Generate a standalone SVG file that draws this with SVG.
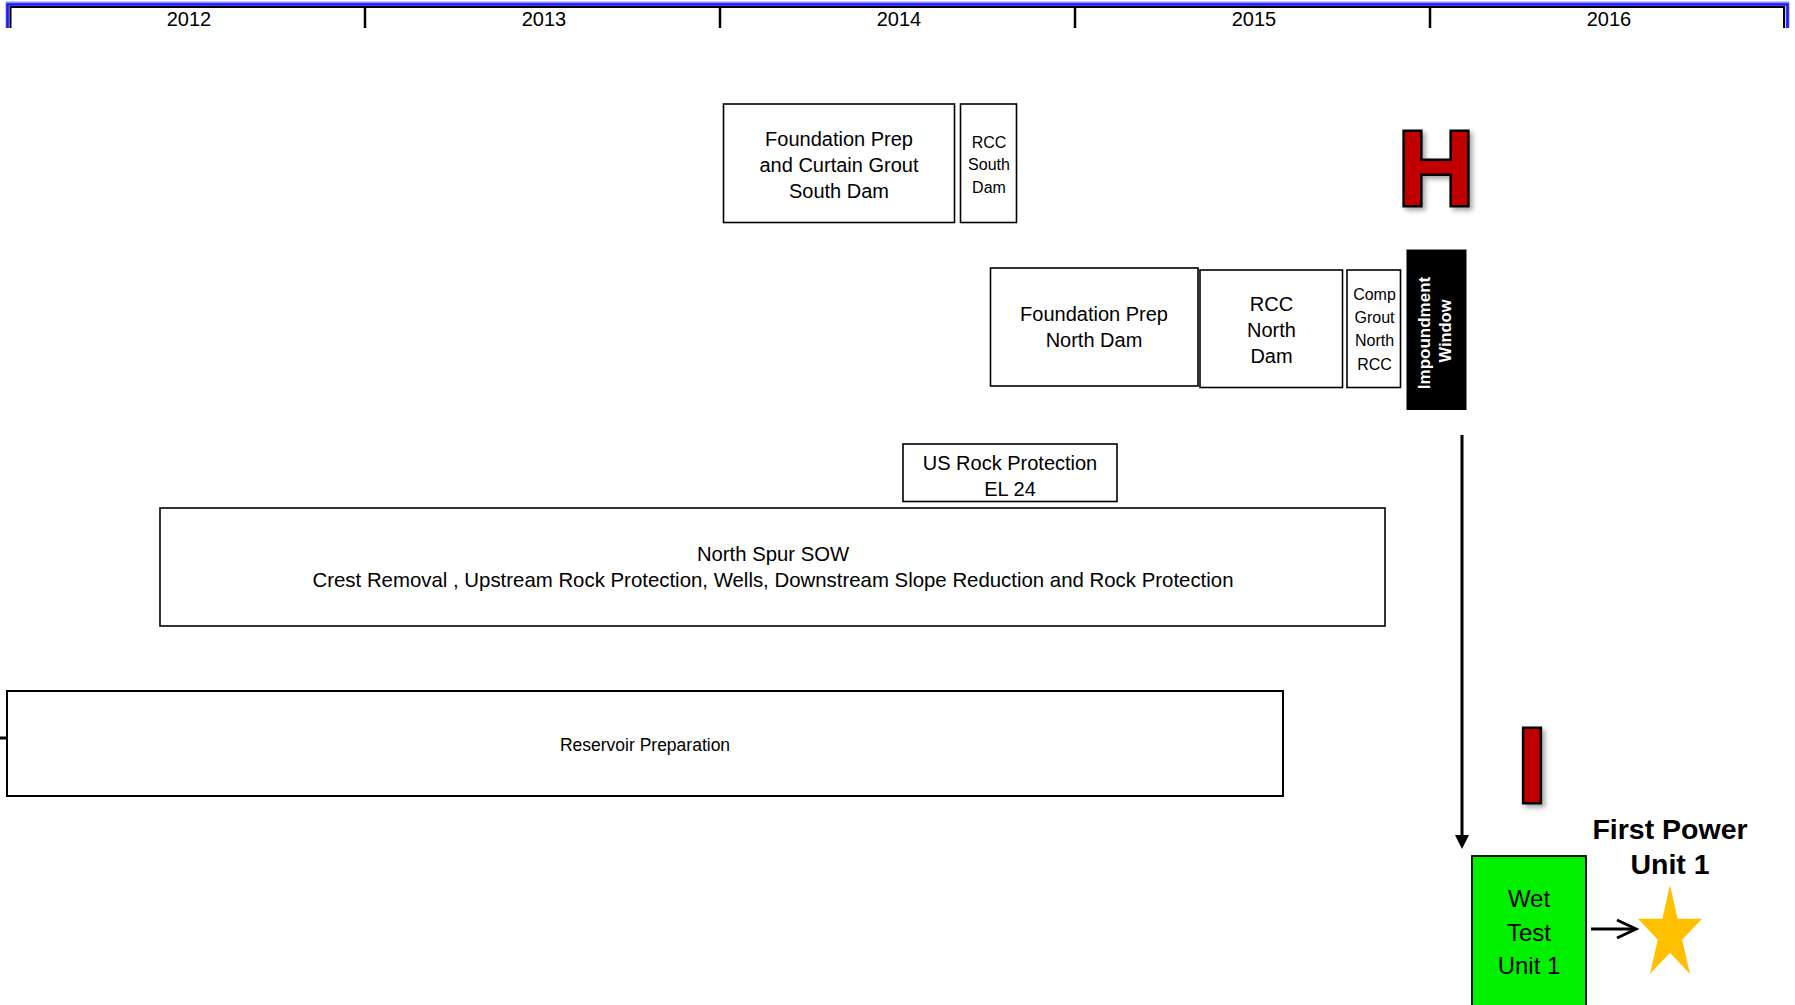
<svg xmlns="http://www.w3.org/2000/svg" width="1795" height="1005" viewBox="0 0 1795 1005">
<style>
.bx{fill:#fff;stroke:#000;stroke-width:1.6}
.t{font-family:"Liberation Sans",Arial,sans-serif;fill:#000;text-anchor:middle}
.f20{font-size:20px}
.f16{font-size:16px}
.yr{font-family:"Liberation Sans",Arial,sans-serif;font-size:20px;text-anchor:middle;fill:#000}
.tick{stroke:#000;stroke-width:2.5}
.big{font-family:"Liberation Sans",Arial,sans-serif;font-weight:bold;font-size:106px;fill:#c00000;stroke:#000;stroke-width:5;paint-order:stroke;text-anchor:middle}
.conn{stroke:#000;stroke-width:3;fill:none}
</style>
<defs>
<filter id="sh" x="-30%" y="-30%" width="160%" height="160%">
<feDropShadow dx="3" dy="3" stdDeviation="2.5" flood-color="#000" flood-opacity="0.35"/>
</filter>
</defs>
<rect width="1795" height="1005" fill="#fff"/>

<g id="timeline">
<path d="M7.5,28 V3.5 H1787.5 V28" fill="none" stroke="#8f8fff" stroke-width="4"/>
<path d="M7.5,28 V4.5 H1787.5 V28" fill="none" stroke="#1a1aff" stroke-width="2.5"/>
<path d="M10.5,28 V7 H1784 V28" fill="none" stroke="#000" stroke-width="2"/>
<line class="tick" x1="365" y1="7" x2="365" y2="28"/>
<line class="tick" x1="720" y1="7" x2="720" y2="28"/>
<line class="tick" x1="1075" y1="7" x2="1075" y2="28"/>
<line class="tick" x1="1430" y1="7" x2="1430" y2="28"/>
<text class="yr" x="189" y="25.5">2012</text>
<text class="yr" x="544" y="25.5">2013</text>
<text class="yr" x="899" y="25.5">2014</text>
<text class="yr" x="1254" y="25.5">2015</text>
<text class="yr" x="1609" y="25.5">2016</text>
</g>

<g id="fp-south">
<rect class="bx" x="723.5" y="104" width="231" height="118.5"/>
<text class="t f20" x="839" y="146">Foundation Prep</text>
<text class="t f20" x="839" y="172">and Curtain Grout</text>
<text class="t f20" x="839" y="197.5">South Dam</text>
</g>

<g id="rcc-south">
<rect class="bx" x="960.5" y="104" width="56" height="118.5"/>
<text class="t f16" x="989" y="147.5">RCC</text>
<text class="t f16" x="989" y="170">South</text>
<text class="t f16" x="989" y="193">Dam</text>
</g>

<g id="h-marker" filter="url(#sh)">
<text class="big" x="1436" y="205">H</text>
</g>

<g id="fp-north">
<rect class="bx" x="990.5" y="268" width="207.5" height="118"/>
<text class="t f20" x="1094" y="321">Foundation Prep</text>
<text class="t f20" x="1094" y="347">North Dam</text>
</g>

<g id="rcc-north">
<rect class="bx" x="1200" y="270" width="142.5" height="117.5"/>
<text class="t f20" x="1271.5" y="310.5">RCC</text>
<text class="t f20" x="1271.5" y="336.5">North</text>
<text class="t f20" x="1271.5" y="362.5">Dam</text>
</g>

<g id="comp-grout">
<rect class="bx" x="1347" y="270" width="53.5" height="117.5"/>
<text class="t f16" x="1374.5" y="299.5">Comp</text>
<text class="t f16" x="1374.5" y="323">Grout</text>
<text class="t f16" x="1374.5" y="346">North</text>
<text class="t f16" x="1374.5" y="369.5">RCC</text>
</g>

<g id="impoundment">
<rect x="1406.5" y="249.5" width="60" height="160.5" fill="#000"/>
<text transform="translate(1430,333) rotate(-90)" style="font-family:'Liberation Sans',Arial,sans-serif;font-size:17px;font-weight:bold;fill:#fff;text-anchor:middle">Impoundment</text>
<text transform="translate(1450.5,331) rotate(-90)" style="font-family:'Liberation Sans',Arial,sans-serif;font-size:16.5px;font-weight:bold;fill:#fff;text-anchor:middle">Window</text>
</g>

<g id="us-rock">
<rect class="bx" x="903" y="444" width="214" height="57.5"/>
<text class="t f20" x="1010" y="469.5">US Rock Protection</text>
<text class="t f20" x="1010" y="495.5">EL 24</text>
</g>

<g id="north-spur">
<rect class="bx" x="160" y="508" width="1225" height="118"/>
<text class="t" style="font-size:20.3px" x="773" y="561">North Spur SOW</text>
<text class="t" style="font-size:20.4px" x="773" y="587">Crest Removal , Upstream Rock Protection, Wells, Downstream Slope Reduction and Rock Protection</text>
</g>

<g id="reservoir">
<line x1="0" y1="738" x2="7" y2="738" stroke="#000" stroke-width="3"/>
<rect x="7" y="691" width="1276" height="105" fill="#fff" stroke="#000" stroke-width="2"/>
<text class="t" style="font-size:17.5px" x="645" y="751">Reservoir Preparation</text>
</g>

<g id="i-marker" filter="url(#sh)">
<text class="big" x="1532" y="801.5">I</text>
</g>

<g id="wet-test">
<rect x="1472" y="856" width="114" height="160" fill="#00f000" stroke="#000" stroke-width="1.8"/>
<text class="t" style="font-size:24px" x="1529" y="907">Wet</text>
<text class="t" style="font-size:24px" x="1529" y="940.5">Test</text>
<text class="t" style="font-size:24px" x="1529" y="974">Unit 1</text>
</g>

<g id="first-power">
<text class="t" style="font-size:28.5px;font-weight:bold" x="1670" y="839">First Power</text>
<text class="t" style="font-size:28.5px;font-weight:bold" x="1670" y="874">Unit 1</text>
<polygon points="1670,885 1677.6,918.8 1702,918.8 1682.2,939.8 1690,974 1670,952.8 1650,974 1657.8,939.8 1638,918.8 1662.4,918.8" fill="#ffc000"/>
</g>

<g id="connectors">
<line class="conn" x1="1462" y1="435" x2="1462" y2="838"/>
<polygon points="1455,835 1469,835 1462,849" fill="#000"/>
<line class="conn" x1="1591" y1="929" x2="1635" y2="929"/>
<polyline class="conn" points="1617,920 1636,929 1617,938"/>
</g>
</svg>
